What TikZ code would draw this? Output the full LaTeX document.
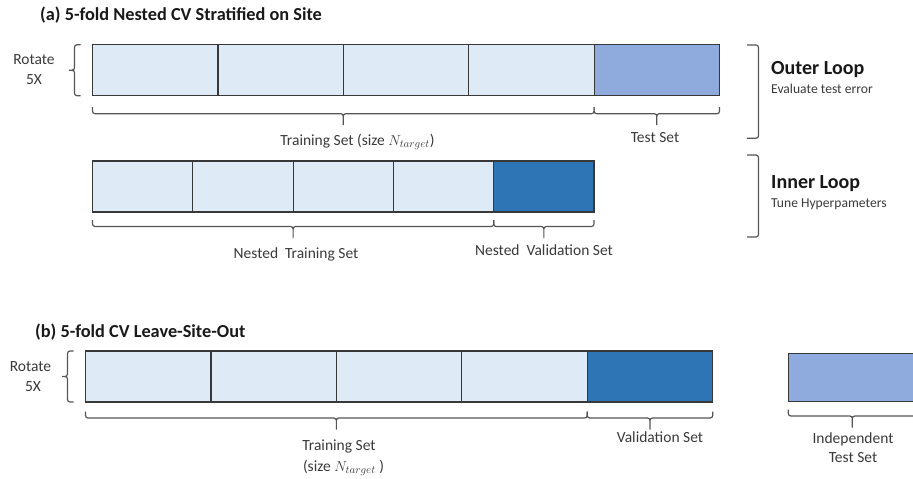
\documentclass[tikz,border=0pt]{standalone}
\usepackage{fontspec}
\setmainfont{Carlito}
\usetikzlibrary{calc}
\definecolor{cellfill}{HTML}{DEEAF6}
\definecolor{testfill}{HTML}{8FAADC}
\definecolor{valfill}{HTML}{2E75B6}
\definecolor{cellborder}{HTML}{383838}
\definecolor{braceline}{HTML}{555555}
\definecolor{labeltext}{HTML}{3A3A3A}
\newcommand{\dnbrace}[3]{%
  \draw[bracestyle] let \p1=(#1), \p2=(#2), \n1={0.5*(\x1+\x2)} in
    (\x1,{\y1-#3}) -- (\x1,{\y1-#3-6.5pt}) -- (\n1,{\y1-#3-6.5pt}) -- (\n1,{\y1-#3-18pt})
    (\x2,{\y1-#3}) -- (\x2,{\y1-#3-6.5pt}) -- (\n1,{\y1-#3-6.5pt}) -- (\n1,{\y1-#3-18pt});}
\newcommand{\lfbrace}[2]{%
  \draw[bracestyle] let \p1=(#1), \p2=(#2), \n1={0.5*(\y1+\y2)} in
    ({\x1-12pt},\y1) -- ({\x1-18pt},\y1) -- ({\x1-18pt},\n1) -- ({\x1-23.5pt},\n1)
    ({\x1-12pt},\y2) -- ({\x1-18pt},\y2) -- ({\x1-18pt},\n1) -- ({\x1-23.5pt},\n1);}
\begin{document}
\begin{tikzpicture}[x=1pt,y=-1pt,
  cell/.style={draw=cellborder, line width=1.2pt, fill=cellfill, minimum height=51pt,
    inner sep=0pt, outer sep=0pt, anchor=north west},
  bracestyle/.style={draw=braceline, line width=1.2pt, rounded corners=2.5pt},
  bracket/.style={draw=braceline, line width=1.2pt, rounded corners=2.5pt},
  title/.style={font=\bfseries\fontsize{18.3}{21}\selectfont, anchor=west, inner sep=0pt, text=black!90},
  lbl/.style={font=\fontsize{15.5}{18}\selectfont, inner sep=0pt, text=labeltext},
  loop/.style={font=\bfseries\fontsize{20}{23}\selectfont, anchor=west, inner sep=0pt, text=black!90},
  sub/.style={font=\fontsize{13.6}{16}\selectfont, anchor=west, inner sep=0pt, text=labeltext}]
\path[use as bounding box] (0,0) rectangle (913,479);
\begin{scope}
\clip (0,0) rectangle (913,479);

% ---------- (a) ----------
\node[title] (ta) at (40,15) {(a) 5-fold Nested CV Stratified on Site};

\foreach \i in {1,...,4}
  \node[cell, minimum width=125.4pt] (a\i) at ({92.5+(\i-1)*125.4},44.7) {};
\node[cell, minimum width=125.4pt, fill=testfill] (a5) at ({92.5+4*125.4},44.7) {};

\node[lbl] (rota) at (34,60) {Rotate};
\node[lbl] (fiveA) at (34,80) {5X};
\lfbrace{a1.north west}{a1.south west}

\dnbrace{a1.south west}{a4.south east}{11.5pt}
\dnbrace{a5.south west}{a5.south east}{11.5pt}
\node[lbl] (trainA) at (357.5,141.7) {Training Set (size $N_{target}$)};
\node[lbl] (testA) at (655,137.7) {Test Set};

\foreach \i in {1,...,4}
  \node[cell, minimum width=100.3pt] (n\i) at ({92.5+(\i-1)*100.3},161) {};
\node[cell, minimum width=100.3pt, fill=valfill] (n5) at ({92.5+4*100.3},161) {};

\dnbrace{n1.south west}{n4.south east}{8pt}
\dnbrace{n5.south west}{n5.south east}{8pt}
\node[lbl] (ntrain) at (296,254) {Nested \ Training Set};
\node[lbl] (nval) at (544,250.5) {Nested \ Validation Set};

\coordinate (o1) at (747,45);
\coordinate (o2) at (758.5,138.3);
\draw[bracket] (o1) -- (o1 -| o2) -- (o2) -- (o2 -| o1);
\coordinate (i1) at (747,155);
\coordinate (i2) at (758.5,237);
\draw[bracket] (i1) -- (i1 -| i2) -- (i2) -- (i2 -| i1);

\node[loop] (outer) at (771,70) {Outer Loop};
\node[sub] (outersub) at (771,89) {Evaluate test error};
\node[loop] (inner) at (771,184) {Inner Loop};
\node[sub] (innersub) at (771,204) {Tune Hyperpameters};

% ---------- (b) ----------
\node[title] (tb) at (35,332) {(b) 5-fold CV Leave-Site-Out};

\foreach \i in {1,...,4}
  \node[cell, minimum width=125.44pt] (b\i) at ({85.5+(\i-1)*125.44},351) {};
\node[cell, minimum width=125.44pt, fill=valfill] (b5) at ({85.5+4*125.44},351) {};

\node[lbl] (rotb) at (30.5,367) {Rotate};
\node[lbl] (fiveB) at (33,387) {5X};
\lfbrace{b1.north west}{b1.south west}

\dnbrace{b1.south west}{b4.south east}{9.5pt}
\dnbrace{b5.south west}{b5.south east}{9.5pt}
\node[lbl] (trainB) at (339,446) {Training Set};
\node[lbl] (sizeB) at (343.5,468) {(size $N_{target}$ )};
\node[lbl] (valB) at (660,437.3) {Validation Set};

\node[cell, minimum width=128pt, minimum height=48.2pt, fill=testfill] (ind) at (788.3,353.3) {};
\dnbrace{ind.south west}{ind.south east}{8pt}
\node[lbl] (indA) at (853,439) {Independent};
\node[lbl] (indB) at (853,457.5) {Test Set};
\end{scope}
\end{tikzpicture}
\end{document}
